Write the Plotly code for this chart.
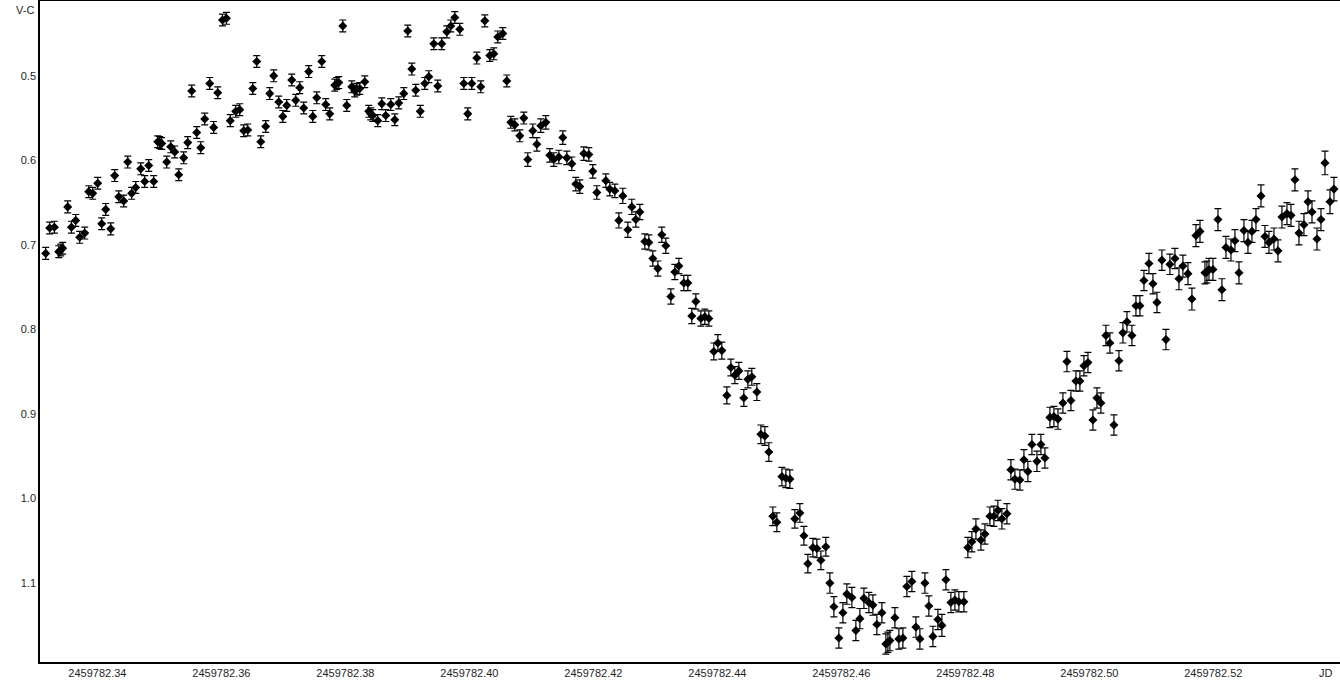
import plotly.graph_objects as go

# Julian dates of the observations
jd = [
    2459782.33166, 2459782.33230, 2459782.33306, 2459782.33376, 2459782.33408, 2459782.33440,
    2459782.33521, 2459782.33581, 2459782.33650, 2459782.33714, 2459782.33795, 2459782.33860,
    2459782.33924, 2459782.34005, 2459782.34069, 2459782.34134, 2459782.34215, 2459782.34279,
    2459782.34344, 2459782.34424, 2459782.34489, 2459782.34553, 2459782.34618, 2459782.34699,
    2459782.34763, 2459782.34828, 2459782.34908, 2459782.34973, 2459782.35005, 2459782.35037,
    2459782.35118, 2459782.35183, 2459782.35247, 2459782.35312, 2459782.35392, 2459782.35457,
    2459782.35521, 2459782.35602, 2459782.35667, 2459782.35731, 2459782.35812, 2459782.35876,
    2459782.35941, 2459782.36017, 2459782.36081, 2459782.36143, 2459782.36231, 2459782.36296,
    2459782.36360, 2459782.36425, 2459782.36506, 2459782.36570, 2459782.36635, 2459782.36715,
    2459782.36780, 2459782.36844, 2459782.36925, 2459782.36990, 2459782.37054, 2459782.37135,
    2459782.37199, 2459782.37264, 2459782.37328, 2459782.37409, 2459782.37474, 2459782.37538,
    2459782.37619, 2459782.37683, 2459782.37748, 2459782.37829, 2459782.37861, 2459782.37893,
    2459782.37958, 2459782.38022, 2459782.38103, 2459782.38151, 2459782.38184, 2459782.38232,
    2459782.38313, 2459782.38377, 2459782.38409, 2459782.38442, 2459782.38522, 2459782.38587,
    2459782.38651, 2459782.38732, 2459782.38797, 2459782.38861, 2459782.38942, 2459782.39006,
    2459782.39071, 2459782.39135, 2459782.39208, 2459782.39281, 2459782.39345, 2459782.39426,
    2459782.39490, 2459782.39555, 2459782.39636, 2459782.39700, 2459782.39765, 2459782.39845,
    2459782.39910, 2459782.39974, 2459782.40039, 2459782.40120, 2459782.40184, 2459782.40249,
    2459782.40329, 2459782.40394, 2459782.40458, 2459782.40539, 2459782.40604, 2459782.40668,
    2459782.40733, 2459782.40813, 2459782.40878, 2459782.40942, 2459782.41023, 2459782.41088,
    2459782.41152, 2459782.41233, 2459782.41297, 2459782.41362, 2459782.41443, 2459782.41507,
    2459782.41572, 2459782.41652, 2459782.41717, 2459782.41781, 2459782.41846, 2459782.41927,
    2459782.41991, 2459782.42056, 2459782.42201, 2459782.42265, 2459782.42346, 2459782.42411,
    2459782.42475, 2459782.42556, 2459782.42620, 2459782.42685, 2459782.42750, 2459782.42830,
    2459782.42895, 2459782.42959, 2459782.43040, 2459782.43104, 2459782.43169, 2459782.43250,
    2459782.43314, 2459782.43379, 2459782.43459, 2459782.43524, 2459782.43588, 2459782.43653,
    2459782.43734, 2459782.43798, 2459782.43863, 2459782.43943, 2459782.44008, 2459782.44072,
    2459782.44153, 2459782.44218, 2459782.44282, 2459782.44347, 2459782.44427, 2459782.44492,
    2459782.44556, 2459782.44637, 2459782.44702, 2459782.44766, 2459782.44831, 2459782.44895,
    2459782.44960, 2459782.45041, 2459782.45105, 2459782.45170, 2459782.45250, 2459782.45331,
    2459782.45396, 2459782.45460, 2459782.45541, 2459782.45605, 2459782.45670, 2459782.45750,
    2459782.45815, 2459782.45880, 2459782.45960, 2459782.46025, 2459782.46089, 2459782.46170,
    2459782.46234, 2459782.46299, 2459782.46364, 2459782.46444, 2459782.46509, 2459782.46573,
    2459782.46654, 2459782.46718, 2459782.46751, 2459782.46783, 2459782.46864, 2459782.46928,
    2459782.46993, 2459782.47057, 2459782.47138, 2459782.47203, 2459782.47267, 2459782.47348,
    2459782.47412, 2459782.47477, 2459782.47557, 2459782.47622, 2459782.47687, 2459782.47767,
    2459782.47832, 2459782.47896, 2459782.47977, 2459782.48041, 2459782.48106, 2459782.48171,
    2459782.48251, 2459782.48316, 2459782.48396, 2459782.48461, 2459782.48525, 2459782.48590,
    2459782.48671, 2459782.48735, 2459782.48800, 2459782.48880, 2459782.48945, 2459782.49009,
    2459782.49074, 2459782.49155, 2459782.49219, 2459782.49284, 2459782.49364, 2459782.49429,
    2459782.49494, 2459782.49574, 2459782.49639, 2459782.49703, 2459782.49784, 2459782.49848,
    2459782.49913, 2459782.49978, 2459782.50058, 2459782.50123, 2459782.50187, 2459782.50268,
    2459782.50332, 2459782.50397, 2459782.50478, 2459782.50542, 2459782.50607, 2459782.50687,
    2459782.50752, 2459782.50816, 2459782.50881, 2459782.50962, 2459782.51026, 2459782.51091,
    2459782.51171, 2459782.51236, 2459782.51300, 2459782.51381, 2459782.51446, 2459782.51510,
    2459782.51591, 2459782.51655, 2459782.51720, 2459782.51785, 2459782.51865, 2459782.51897,
    2459782.51930, 2459782.51994, 2459782.52075, 2459782.52139, 2459782.52204, 2459782.52285,
    2459782.52349, 2459782.52414, 2459782.52494, 2459782.52559, 2459782.52623, 2459782.52688,
    2459782.52769, 2459782.52833, 2459782.52898, 2459782.52978, 2459782.53043, 2459782.53107,
    2459782.53188, 2459782.53253, 2459782.53317, 2459782.53382, 2459782.53462, 2459782.53527,
    2459782.53592, 2459782.53672, 2459782.53737, 2459782.53801, 2459782.53882, 2459782.53946,
]

# V-C differential magnitudes
v_c = [
    0.710, 0.680, 0.679, 0.708, 0.706, 0.704, 0.655, 0.679, 0.671, 0.691, 0.686, 0.637,
    0.639, 0.627, 0.675, 0.658, 0.681, 0.618, 0.643, 0.648, 0.602, 0.639, 0.632, 0.610,
    0.625, 0.606, 0.625, 0.578, 0.579, 0.580, 0.602, 0.584, 0.590, 0.617, 0.597, 0.579,
    0.518, 0.567, 0.585, 0.551, 0.509, 0.561, 0.520, 0.434, 0.432, 0.553, 0.542, 0.540,
    0.565, 0.564, 0.515, 0.483, 0.578, 0.560, 0.521, 0.500, 0.531, 0.548, 0.535, 0.505,
    0.529, 0.514, 0.538, 0.495, 0.548, 0.526, 0.483, 0.534, 0.545, 0.511, 0.509, 0.508,
    0.441, 0.535, 0.513, 0.518, 0.516, 0.515, 0.507, 0.542, 0.545, 0.547, 0.553, 0.533,
    0.547, 0.534, 0.552, 0.532, 0.521, 0.447, 0.492, 0.517, 0.542, 0.509, 0.501, 0.462,
    0.512, 0.462, 0.448, 0.441, 0.431, 0.445, 0.509, 0.545, 0.509, 0.479, 0.513, 0.435,
    0.476, 0.474, 0.454, 0.450, 0.506, 0.555, 0.558, 0.571, 0.550, 0.599, 0.565, 0.581,
    0.559, 0.555, 0.594, 0.599, 0.596, 0.573, 0.597, 0.604, 0.628, 0.631, 0.592, 0.593,
    0.613, 0.638, 0.624, 0.634, 0.636, 0.671, 0.642, 0.682, 0.655, 0.670, 0.661, 0.696,
    0.697, 0.716, 0.728, 0.688, 0.701, 0.761, 0.732, 0.725, 0.745, 0.745, 0.784, 0.767,
    0.787, 0.785, 0.787, 0.826, 0.816, 0.825, 0.878, 0.845, 0.854, 0.849, 0.881, 0.859,
    0.856, 0.874, 0.924, 0.926, 0.945, 1.021, 1.028, 0.974, 0.976, 0.977, 1.024, 1.017,
    1.044, 1.077, 1.058, 1.059, 1.073, 1.057, 1.100, 1.128, 1.165, 1.135, 1.113, 1.117,
    1.156, 1.142, 1.118, 1.123, 1.126, 1.149, 1.135, 1.172, 1.170, 1.168, 1.141, 1.166,
    1.165, 1.104, 1.098, 1.152, 1.166, 1.100, 1.127, 1.163, 1.143, 1.150, 1.096, 1.123,
    1.120, 1.122, 1.122, 1.058, 1.051, 1.036, 1.049, 1.042, 1.021, 1.021, 1.014, 1.024,
    1.018, 0.966, 0.977, 0.978, 0.954, 0.968, 0.936, 0.956, 0.936, 0.952, 0.904, 0.903,
    0.906, 0.887, 0.838, 0.884, 0.861, 0.861, 0.843, 0.839, 0.907, 0.881, 0.887, 0.807,
    0.816, 0.913, 0.837, 0.804, 0.791, 0.807, 0.772, 0.772, 0.742, 0.722, 0.746, 0.768,
    0.718, 0.812, 0.723, 0.716, 0.740, 0.725, 0.734, 0.764, 0.689, 0.684, 0.733, 0.732,
    0.729, 0.729, 0.670, 0.753, 0.703, 0.706, 0.695, 0.733, 0.683, 0.697, 0.684, 0.670,
    0.642, 0.690, 0.697, 0.693, 0.707, 0.667, 0.663, 0.665, 0.623, 0.686, 0.676, 0.649,
    0.661, 0.693, 0.670, 0.603, 0.649, 0.634,
]

# Magnitude errors
v_c_err = [
    0.007, 0.007, 0.007, 0.007, 0.007, 0.007, 0.007, 0.007, 0.007, 0.007, 0.007, 0.007,
    0.007, 0.007, 0.007, 0.007, 0.007, 0.007, 0.007, 0.007, 0.007, 0.007, 0.007, 0.007,
    0.007, 0.007, 0.007, 0.007, 0.007, 0.007, 0.007, 0.007, 0.007, 0.007, 0.007, 0.007,
    0.007, 0.007, 0.007, 0.007, 0.007, 0.007, 0.007, 0.007, 0.007, 0.007, 0.007, 0.007,
    0.007, 0.007, 0.007, 0.007, 0.007, 0.007, 0.007, 0.007, 0.007, 0.007, 0.007, 0.007,
    0.007, 0.007, 0.007, 0.007, 0.007, 0.007, 0.007, 0.007, 0.007, 0.007, 0.007, 0.007,
    0.007, 0.007, 0.007, 0.007, 0.007, 0.007, 0.007, 0.007, 0.007, 0.007, 0.007, 0.007,
    0.007, 0.007, 0.007, 0.007, 0.007, 0.007, 0.007, 0.007, 0.007, 0.007, 0.007, 0.007,
    0.007, 0.007, 0.007, 0.007, 0.007, 0.007, 0.007, 0.007, 0.007, 0.007, 0.007, 0.007,
    0.007, 0.007, 0.007, 0.007, 0.007, 0.007, 0.007, 0.007, 0.007, 0.008, 0.008, 0.008,
    0.008, 0.008, 0.008, 0.008, 0.008, 0.008, 0.008, 0.008, 0.008, 0.008, 0.008, 0.008,
    0.008, 0.008, 0.008, 0.008, 0.008, 0.009, 0.009, 0.009, 0.009, 0.009, 0.009, 0.009,
    0.009, 0.009, 0.009, 0.009, 0.009, 0.009, 0.009, 0.009, 0.009, 0.009, 0.009, 0.009,
    0.009, 0.009, 0.009, 0.010, 0.010, 0.010, 0.010, 0.010, 0.010, 0.010, 0.010, 0.010,
    0.010, 0.010, 0.011, 0.011, 0.011, 0.011, 0.011, 0.011, 0.011, 0.011, 0.011, 0.011,
    0.011, 0.011, 0.011, 0.011, 0.011, 0.011, 0.012, 0.012, 0.012, 0.012, 0.012, 0.012,
    0.012, 0.012, 0.012, 0.012, 0.012, 0.012, 0.012, 0.012, 0.012, 0.012, 0.012, 0.012,
    0.012, 0.012, 0.012, 0.012, 0.012, 0.012, 0.012, 0.012, 0.012, 0.013, 0.012, 0.012,
    0.012, 0.012, 0.012, 0.012, 0.012, 0.012, 0.012, 0.012, 0.011, 0.012, 0.012, 0.012,
    0.012, 0.012, 0.012, 0.012, 0.012, 0.012, 0.012, 0.012, 0.012, 0.012, 0.012, 0.012,
    0.012, 0.012, 0.012, 0.012, 0.012, 0.012, 0.012, 0.012, 0.012, 0.012, 0.012, 0.012,
    0.012, 0.012, 0.012, 0.012, 0.012, 0.012, 0.012, 0.012, 0.012, 0.012, 0.012, 0.012,
    0.012, 0.012, 0.012, 0.012, 0.013, 0.013, 0.013, 0.013, 0.013, 0.013, 0.013, 0.013,
    0.013, 0.013, 0.013, 0.013, 0.013, 0.013, 0.013, 0.013, 0.013, 0.013, 0.013, 0.013,
    0.013, 0.013, 0.013, 0.013, 0.013, 0.013, 0.013, 0.013, 0.013, 0.014, 0.013, 0.013,
    0.013, 0.013, 0.013, 0.014, 0.014, 0.014,
]

x_tick_vals = [2459782.34, 2459782.36, 2459782.38, 2459782.40, 2459782.42,
               2459782.44, 2459782.46, 2459782.48, 2459782.50, 2459782.52]
x_tick_text = ["2459782.34", "2459782.36", "2459782.38", "2459782.40", "2459782.42",
               "2459782.44", "2459782.46", "2459782.48", "2459782.50", "2459782.52"]
y_tick_vals = [0.5, 0.6, 0.7, 0.8, 0.9, 1.0, 1.1]
y_tick_text = ["0.5", "0.6", "0.7", "0.8", "0.9", "1.0", "1.1"]

x_range = [2459782.330739, 2459782.540436]
y_range = [1.1933, 0.4115]

FONT = dict(family="Liberation Sans, Arial, sans-serif", size=11, color="#1e1e1e")

fig = go.Figure()
fig.add_trace(go.Scatter(
    x=jd, y=v_c, mode="markers",
    marker=dict(symbol="diamond", size=7, color="black", line=dict(width=0)),
    error_y=dict(type="data", array=v_c_err, visible=True,
                 color="black", thickness=1.2, width=3.5),
    showlegend=False, hoverinfo="x+y",
))

fig.update_layout(
    width=1340, height=682,
    margin=dict(l=40, r=0, t=1, b=20),
    paper_bgcolor="white", plot_bgcolor="white",
    font=FONT,
    xaxis=dict(range=x_range, tickvals=x_tick_vals, ticktext=x_tick_text,
               showgrid=False, zeroline=False, ticks="", showline=True,
               linecolor="black", linewidth=1.5, mirror=True, tickfont=FONT),
    yaxis=dict(range=y_range, tickvals=y_tick_vals, ticktext=y_tick_text,
               showgrid=False, zeroline=False, ticks="", showline=True,
               linecolor="black", linewidth=1.5, tickfont=FONT),
    annotations=[
        dict(text="V-C", xref="paper", yref="paper", x=0, y=1,
             xanchor="right", yanchor="middle", xshift=-4, yshift=-9,
             showarrow=False, font=FONT),
        dict(text="JD", xref="paper", yref="paper", x=1, y=0,
             xanchor="right", yanchor="top", xshift=-5, yshift=-3,
             showarrow=False, font=FONT),
    ],
)

fig.write_html(
    "out.html",
    config={"displayModeBar": False},
    post_script="document.body.style.margin='0';document.body.style.overflow='hidden';",
)
